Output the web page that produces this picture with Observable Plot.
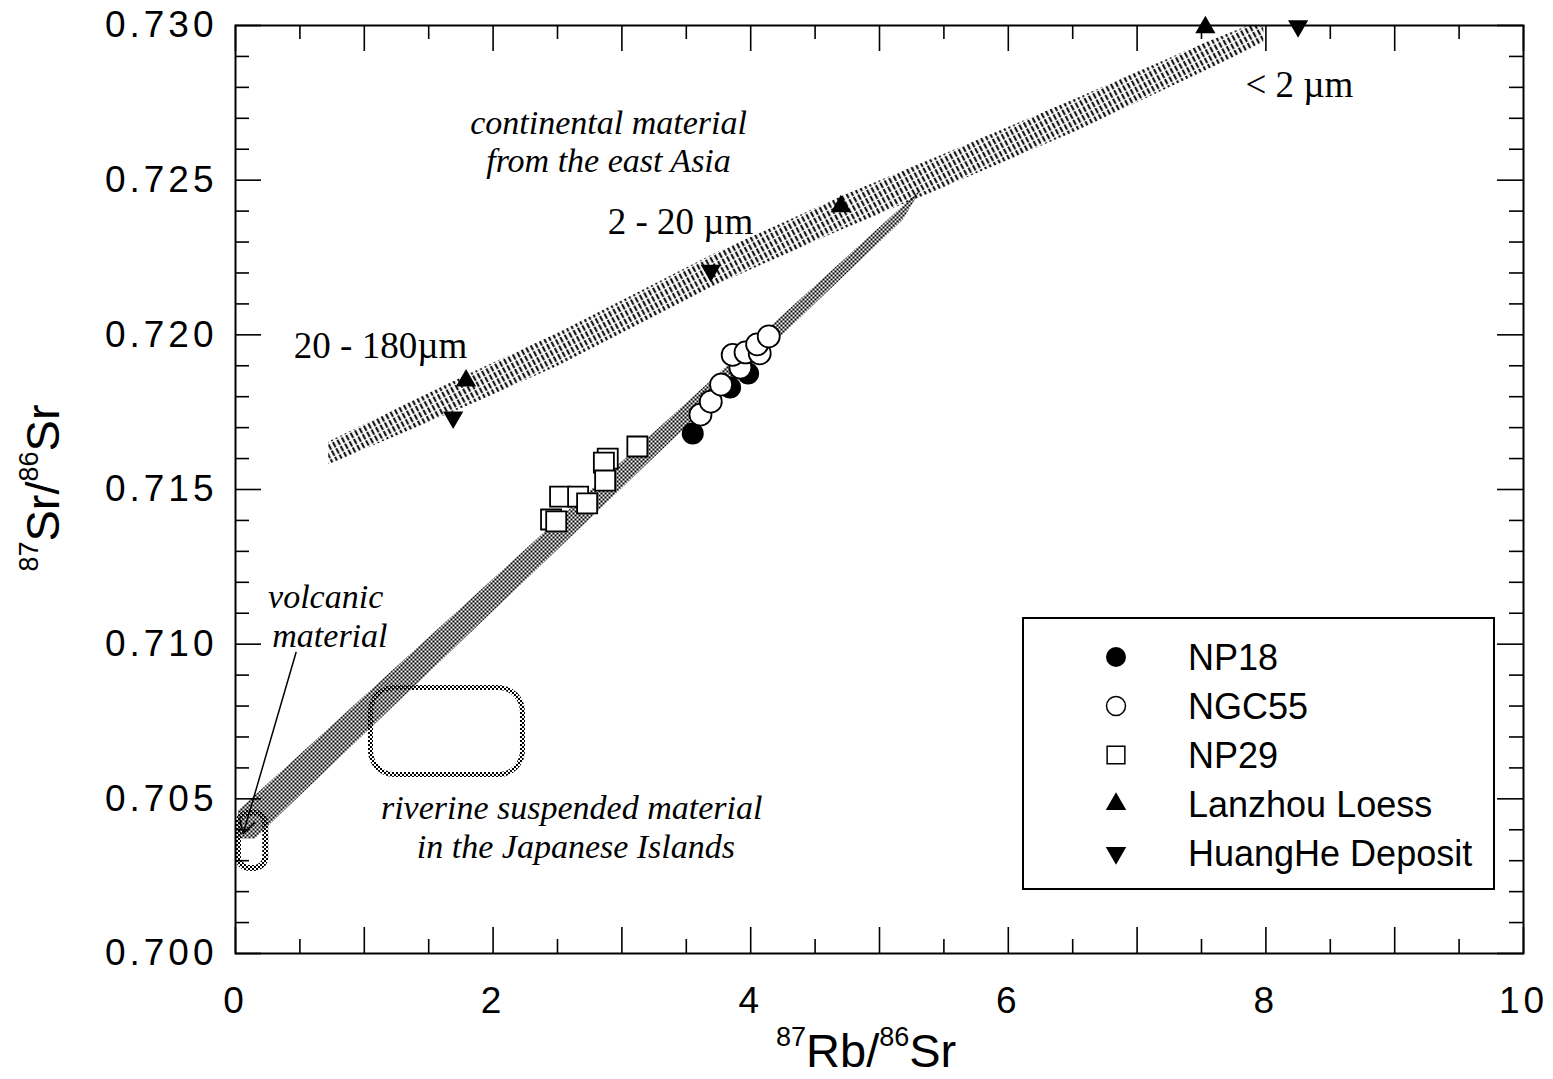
<!DOCTYPE html>
<html><head><meta charset="utf-8">
<script src="https://cdn.jsdelivr.net/npm/d3@7"></script>
<script src="https://cdn.jsdelivr.net/npm/@observablehq/plot@0.6"></script>
<style>
body{margin:0;background:#fff;}
#wrap{position:relative;width:1553px;height:1079px;overflow:hidden;background:#fff;}
#wrap svg{position:absolute;left:0;top:0;}
g[aria-label="y-axis tick label"], g[aria-label="x-axis tick label"]{letter-spacing:4px;}
.alab{position:absolute;font-family:"Liberation Sans",Arial,sans-serif;font-size:47px;color:#000;white-space:nowrap;line-height:1;}
.alab sup{font-size:27px;vertical-align:0;position:relative;top:-21px;}
#legend{position:absolute;left:1022px;top:617px;width:469px;height:269px;border:2px solid #000;background:#fff;font-family:"Liberation Sans",Arial,sans-serif;}
</style></head><body><div id="wrap"></div>
<script>
// ---------------- data ----------------
const np18X = [3.55, 3.84, 3.98];
const np18Y = [0.71681, 0.71830, 0.71875];

const ngc55X = [3.61, 3.69, 3.77, 3.92, 3.86, 3.96, 4.07, 4.05, 4.14];
const ngc55Y = [0.71742, 0.71784, 0.71839, 0.71894, 0.71935, 0.71943, 0.71940, 0.71969, 0.71995];

const np29X = [3.12, 2.89, 2.86, 2.87, 2.52, 2.66, 2.73, 2.45, 2.49];
const np29Y = [0.71639, 0.71600, 0.71587, 0.71529, 0.71477, 0.71477, 0.71455, 0.71403, 0.71397];

const loessX = [1.79, 4.70, 7.53];
const loessY = [0.71852, 0.72415, 0.72994];

const huangheX = [1.69, 3.69, 8.25];
const huangheY = [0.71733, 0.72208, 0.72998];

// continental-material band (hatched): upper edge, then back along the lower edge
const contBandX = [0.72, 1.79, 2.50, 3.69, 4.70, 5.50, 6.50, 7.50, 7.98, 7.98, 7.50, 6.50, 5.50, 4.70, 3.69, 2.50, 1.79, 0.72];
const contBandY = [0.71655, 0.71870, 0.72006, 0.72258, 0.72448, 0.72585, 0.72760, 0.72940, 0.73020,
                   0.72945, 0.72850, 0.72655, 0.72478, 0.72340, 0.72155, 0.71900, 0.71770, 0.71582];

// mixing band (stippled)
const mixBandX = [0.02, 5.32, 5.18, 0.15, 0.02];
const mixBandY = [0.70462, 0.72470, 0.72372, 0.70372, 0.70372];

// rounded source fields
const volcX1 = [0.023], volcX2 = [0.235], volcY1 = [0.70275], volcY2 = [0.70453];
const rivX1 = [1.052], rivX2 = [2.232], rivY1 = [0.70577], rivY2 = [0.70858];

// arrow pointing at the volcanic field
const arrowX1 = [0.47], arrowY1 = [0.70973], arrowX2 = [0.06], arrowY2 = [0.70388];

// annotations (two-line labels use a line break)
const italicText = ["continental material\nfrom the east Asia", "volcanic\n material",
                    "riverine suspended material\n in the Japanese Islands"];
const italicX = [2.896, 0.70, 2.61];
const italicY = [0.72628, 0.71093, 0.70412];

const sizeText = ["2 - 20 µm", "20 - 180µm", "< 2 µm"];
const sizeX = [3.455, 1.126, 8.26];
const sizeY = [0.72363, 0.71962, 0.72806];

// axes
const xMajorTicks = [0,1,2,3,4,5,6,7,8,9,10];
const xMinorTicks = [0.5,1.5,2.5,3.5,4.5,5.5,6.5,7.5,8.5,9.5];
const xLabelTicks = [0,2,4,6,8,10];
const yMajorTicks = [0.700,0.705,0.710,0.715,0.720,0.725,0.730];
const yMinorTicks = [0.701,0.702,0.703,0.704,0.706,0.707,0.708,0.709,0.711,0.712,0.713,0.714,
                     0.716,0.717,0.718,0.719,0.721,0.722,0.723,0.724,0.726,0.727,0.728,0.729];

const legendNames = ["NP18", "NGC55", "NP29", "Lanzhou Loess", "HuangHe Deposit"];

// ---------------- build ----------------
const pts = (xs, ys) => xs.map((x, i) => ({x, y: ys[i]}));
const np18 = pts(np18X, np18Y), ngc55 = pts(ngc55X, ngc55Y), np29 = pts(np29X, np29Y);
const loess = pts(loessX, loessY), huanghe = pts(huangheX, huangheY);
const contBand = pts(contBandX, contBandY), mixBand = pts(mixBandX, mixBandY);
const box = (x1, x2, y1, y2) => x1.map((d, i) => ({x1: d, x2: x2[i], y1: y1[i], y2: y2[i]}));
const volc = box(volcX1, volcX2, volcY1, volcY2), riv = box(rivX1, rivX2, rivY1, rivY2);
const arrows = arrowX1.map((d, i) => ({x1: d, y1: arrowY1[i], x2: arrowX2[i], y2: arrowY2[i]}));
const italics = italicText.map((t, i) => ({t, x: italicX[i], y: italicY[i]}));
const sizes = sizeText.map((t, i) => ({t, x: sizeX[i], y: sizeY[i]}));

const triDown = {
  draw(context, size) {
    const y = -Math.sqrt(size / (Math.sqrt(3) * 3));
    context.moveTo(0, -y * 2);
    context.lineTo(-Math.sqrt(3) * y, y);
    context.lineTo(Math.sqrt(3) * y, y);
    context.closePath();
  }
};

const W = 1553, H = 1079, mL = 235, mR = 30, mT = 25, mB = 126;
const iW = W - mL - mR, iH = H - mT - mB;
const LONG = 26, SHORT = 14;
const serif = "'Liberation Serif', 'Times New Roman', serif";

const plot = Plot.plot({
  width: W, height: H,
  marginLeft: mL, marginRight: mR, marginTop: mT, marginBottom: mB,
  x: {domain: [0, 10]},
  y: {domain: [0.700, 0.730]},
  style: {fontFamily: "'Liberation Sans', Arial, sans-serif", background: "white", color: "black"},
  marks: [
    Plot.line(contBand, {x: "x", y: "y", fill: "url(#hatch)", stroke: "none", clip: true}),
    Plot.line(mixBand, {x: "x", y: "y", fill: "url(#stipple)", stroke: "none", clip: true}),
    Plot.rect(volc, {x1: "x1", x2: "x2", y1: "y1", y2: "y2", rx: 11, fill: "none", stroke: "url(#stipple)", strokeWidth: 6}),
    Plot.rect(riv, {x1: "x1", x2: "x2", y1: "y1", y2: "y2", rx: 24, fill: "none", stroke: "url(#stipple)", strokeWidth: 5}),
    Plot.arrow(arrows, {x1: "x1", y1: "y1", x2: "x2", y2: "y2", stroke: "black", strokeWidth: 1.5, headLength: 16}),
    Plot.dot(np29, {x: "x", y: "y", symbol: "square", r: 11.3, fill: "white", stroke: "black", strokeWidth: 1.8}),
    Plot.dot(np18, {x: "x", y: "y", symbol: "circle", r: 11, fill: "black"}),
    Plot.dot(ngc55, {x: "x", y: "y", symbol: "circle", r: 11, fill: "white", stroke: "black", strokeWidth: 1.8}),
    Plot.dot(loess, {x: "x", y: "y", symbol: "triangle", r: 7.5, fill: "black"}),
    Plot.dot(huanghe, {x: "x", y: "y", symbol: triDown, r: 7.5, fill: "black"}),
    Plot.text(italics, {x: "x", y: "y", text: "t", fontFamily: serif, fontStyle: "italic", fontSize: 34, lineHeight: 1.13, fill: "black"}),
    Plot.text(sizes, {x: "x", y: "y", text: "t", fontFamily: serif, fontSize: 37, fill: "black"}),
    // inward ticks on all four sides
    Plot.ruleX(xMajorTicks, {x: d => d, insetTop: iH - LONG, strokeWidth: 1.6}),
    Plot.ruleX(xMinorTicks, {x: d => d, insetTop: iH - SHORT, strokeWidth: 1.6}),
    Plot.ruleX(xMajorTicks, {x: d => d, insetBottom: iH - LONG, strokeWidth: 1.6}),
    Plot.ruleX(xMinorTicks, {x: d => d, insetBottom: iH - SHORT, strokeWidth: 1.6}),
    Plot.ruleY(yMajorTicks, {y: d => d, insetRight: iW - LONG, strokeWidth: 1.6}),
    Plot.ruleY(yMinorTicks, {y: d => d, insetRight: iW - SHORT, strokeWidth: 1.6}),
    Plot.ruleY(yMajorTicks, {y: d => d, insetLeft: iW - LONG, strokeWidth: 1.6}),
    Plot.ruleY(yMinorTicks, {y: d => d, insetLeft: iW - SHORT, strokeWidth: 1.6}),
    Plot.frame({stroke: "black", strokeWidth: 2}),
    Plot.axisX(xLabelTicks, {tickSize: 0, tickPadding: 33, fontSize: 37, label: null, tickFormat: d => String(d)}),
    Plot.axisY(yMajorTicks, {tickSize: 0, tickPadding: 18, fontSize: 37, label: null, tickFormat: d3.format(".3f")})
  ]
});

// fill patterns
const defs = d3.create("svg:defs");
const hatch = defs.append("pattern").attr("id", "hatch").attr("patternUnits", "userSpaceOnUse")
  .attr("width", 5).attr("height", 7).attr("patternTransform", "rotate(-28)");
hatch.append("line").attr("x1", 1.2).attr("y1", 0).attr("x2", 1.2).attr("y2", 5.8).attr("stroke", "black").attr("stroke-width", 2);
const stip = defs.append("pattern").attr("id", "stipple").attr("patternUnits", "userSpaceOnUse")
  .attr("width", 4).attr("height", 4);
stip.append("rect").attr("x", 0).attr("y", 0).attr("width", 2).attr("height", 2).attr("fill", "black");
stip.append("rect").attr("x", 2).attr("y", 2).attr("width", 2).attr("height", 2).attr("fill", "black");
plot.insertBefore(defs.node(), plot.firstChild);

const wrap = document.getElementById("wrap");
wrap.appendChild(plot);

// axis titles
const xl = document.createElement("div");
xl.className = "alab";
xl.innerHTML = "<sup>87</sup>Rb/<sup>86</sup>Sr";
xl.style.left = "776px"; xl.style.top = "1027px";
wrap.appendChild(xl);
const yl = document.createElement("div");
yl.className = "alab";
yl.innerHTML = "<sup>87</sup>Sr/<sup>86</sup>Sr";
yl.style.left = "42px"; yl.style.top = "488px";
yl.style.transform = "translate(-50%,-50%) rotate(-90deg)";
wrap.appendChild(yl);

// legend
const lg = document.createElement("div");
lg.id = "legend";
wrap.appendChild(lg);
const lsvg = d3.select(lg).append("svg").attr("width", 469).attr("height", 269).style("position", "absolute").style("left", 0).style("top", 0);
const legSym = [
  {s: d3.symbolCircle, r: 10, fill: "black", stroke: "none"},
  {s: d3.symbolCircle, r: 9.5, fill: "white", stroke: "black"},
  {s: d3.symbolSquare, r: 10, fill: "white", stroke: "black"},
  {s: d3.symbolTriangle, r: 7.6, fill: "black", stroke: "none"},
  {s: triDown, r: 7.6, fill: "black", stroke: "none"}
];
legendNames.forEach((name, i) => {
  const cy = 38 + i * 49;
  const sym = legSym[i];
  lsvg.append("path").attr("transform", `translate(${92},${cy})`)
    .attr("d", d3.symbol(sym.s, Math.PI * sym.r * sym.r)())
    .attr("fill", sym.fill).attr("stroke", sym.stroke).attr("stroke-width", 1.5);
  lsvg.append("text").attr("x", 164).attr("y", cy).attr("dy", "0.36em")
    .attr("font-family", "'Liberation Sans', Arial, sans-serif").attr("font-size", 36).text(name);
});
</script></body></html>
